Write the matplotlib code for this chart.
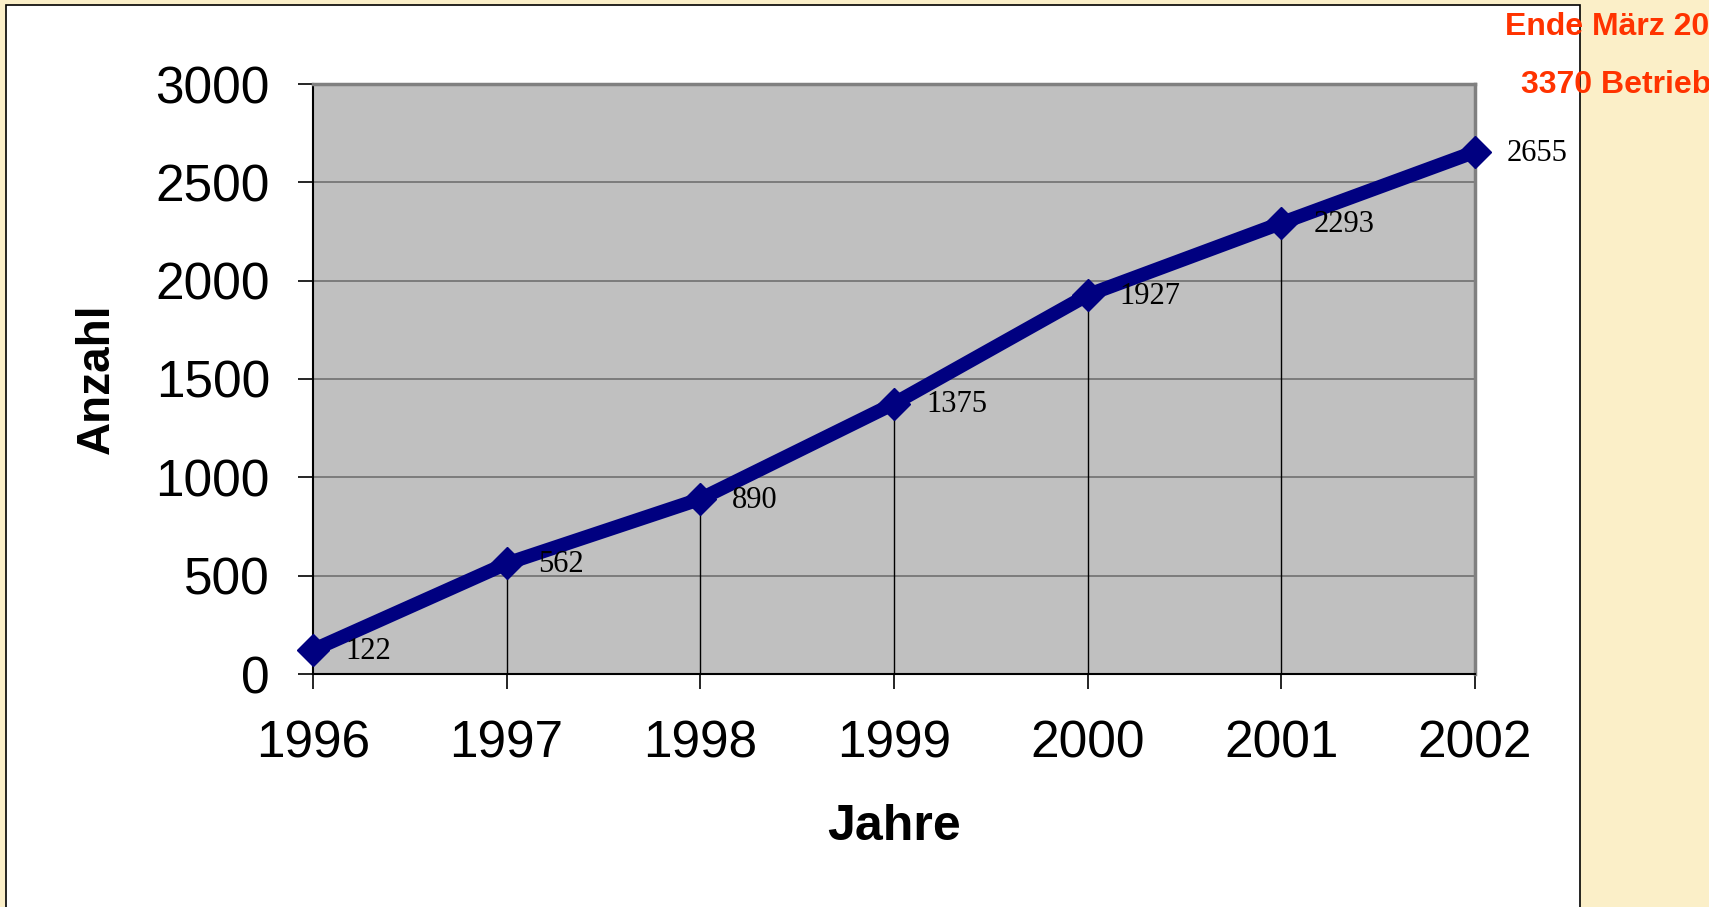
import matplotlib.pyplot as plt
import matplotlib.patches as patches

# data
years = [1996, 1997, 1998, 1999, 2000, 2001, 2002]
counts = [122, 562, 890, 1375, 1927, 2293, 2655]
y_ticks = [0, 500, 1000, 1500, 2000, 2500, 3000]
note_lines = ["Ende März 20", "3370 Betrieb"]

W, H = 1709, 907
fig = plt.figure(figsize=(W / 100, H / 100), dpi=100)
fig.patch.set_facecolor('#FBEFC8')

# white chart box (behind the axes)
box = patches.Rectangle((6 / W, -0.01), (1580 - 6) / W, 1.01 - 5 / H,
                        transform=fig.transFigure, facecolor='white',
                        edgecolor='black', linewidth=1.2, zorder=-1)
fig.add_artist(box)

ax = fig.add_axes([313 / W, 1 - 674 / H, (1475 - 313) / W, (674 - 84) / H])
ax.set_facecolor('#C0C0C0')
ax.set_xlim(years[0], years[-1])
ax.set_ylim(0, 3000)

ax.set_yticks(y_ticks)
ax.set_xticks(years)
ax.yaxis.grid(True, color='#707070', linewidth=1.2)
ax.set_axisbelow(True)

# drop lines
ax.vlines(years[1:], 0, counts[1:], color='black', linewidth=1.0, zorder=2)

ax.plot(years, counts, color='#000080', linewidth=10, marker='D',
        markersize=16, clip_on=False, zorder=4, solid_joinstyle='miter')

for x, y in zip(years, counts):
    ax.annotate(str(y), (x, y), xytext=(23, -1), textcoords='offset points',
                ha='left', va='center', fontsize=22, family='Liberation Serif',
                zorder=5, annotation_clip=False)

for side in ['left', 'bottom']:
    ax.spines[side].set_color('black')
    ax.spines[side].set_linewidth(1.5)
for side in ['top', 'right']:
    ax.spines[side].set_color('#808080')
    ax.spines[side].set_linewidth(2.5)

ax.tick_params(axis='both', direction='out', length=11, width=1.2,
               labelsize=37, color='black')
ax.tick_params(axis='x', pad=22)
ax.tick_params(axis='y', pad=20)
for lbl in ax.get_xticklabels() + ax.get_yticklabels():
    lbl.set_family('Liberation Sans')

ax.set_xlabel('Jahre', fontsize=36, fontweight='bold', family='Liberation Sans', labelpad=25)
ax.set_ylabel('Anzahl', fontsize=33, fontweight='bold', family='Liberation Sans', labelpad=26)

fig.text(1505 / W, 1 - 27 / H, note_lines[0], color='#FF3300', fontsize=23,
         fontweight='bold', family='Liberation Sans', ha='left', va='center')
fig.text(1521 / W, 1 - 85 / H, note_lines[1], color='#FF3300', fontsize=23,
         fontweight='bold', family='Liberation Sans', ha='left', va='center')

fig.savefig('out.png', dpi=100, facecolor=fig.get_facecolor())
